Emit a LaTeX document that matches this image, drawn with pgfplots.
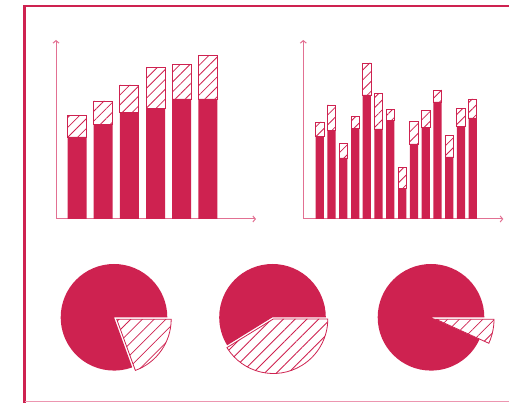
\documentclass[border=0pt]{standalone}
\usepackage{pgfplots}
\pgfplotsset{compat=1.18}
\usetikzlibrary{arrows.meta,patterns.meta}
\definecolor{crim}{RGB}{206,34,80}
\definecolor{axpink}{RGB}{226,112,146}
\definecolor{framepink}{RGB}{236,150,176}

\pgfplotsset{
  barchart/.style={
    x=1pt, y=1pt, xmin=0, xmax=200, ymin=0, ymax=179,
    anchor=south west, clip=false,
    axis lines=left, xtick=\empty, ytick=\empty,
    axis line style={draw=axpink, line width=1pt,
      -{Straight Barb[length=2.5pt,width=6pt]}},
    ybar stacked,
  },
  solid/.style={fill=crim, draw=none},
  hatch/.style={draw=crim, line width=0.8pt,
    pattern={Lines[angle=45,distance=7pt,line width=0.8pt]}, pattern color=crim},
  pie/.style={
    x=1pt, y=1pt, xmin=-60, xmax=60, ymin=-60, ymax=60,
    hide axis, anchor=center, clip=false,
  },
}
\tikzset{piehatch/.style={draw=crim, line width=0.8pt,
    pattern={Lines[angle=45,distance=8.3pt,line width=0.8pt]}, pattern color=crim}}

\begin{document}
\begin{tikzpicture}
\useasboundingbox (0pt,0pt) rectangle (509pt,403pt);

% frame
\draw[crim, line width=2.2pt] (24.5pt,0pt) -- (24.5pt,397pt) -- (509pt,397pt);
\draw[framepink, line width=1.5pt] (24.5pt,1.5pt) -- (509pt,1.5pt);

% left bars
\begin{axis}[barchart, at={(56pt,184pt)}, bar width=19pt]
\addplot[solid] coordinates {(21,82) (47.2,94.7) (73.3,106.7) (99.5,110.3) (125.6,120) (151.8,120)};
\addplot[hatch] coordinates {(21,21.7) (47.2,23.3) (73.3,27.3) (99.5,41.4) (125.6,34.3) (151.8,43.7)};
\end{axis}

% right bars
\begin{axis}[barchart, at={(303.3pt,184pt)}, bar width=8.3pt]
\addplot[solid] coordinates {(16.5,82.3) (28.2,88.7) (40.0,61) (51.9,90.7) (63.5,124) (75.2,90) (87.0,98.7)
  (98.9,30.3) (110.7,75) (122.5,91.3) (134.2,117) (145.9,62) (157.7,92.7) (169.4,101)};
\addplot[hatch] coordinates {(16.5,14.7) (28.2,25.3) (40.0,14.7) (51.9,12) (63.5,32) (75.2,35.3) (87.0,11)
  (98.9,21.4) (110.7,22.3) (122.5,17.4) (134.2,12) (145.9,21.7) (157.7,17.6) (169.4,19)};
\end{axis}

% pies
\begin{axis}[pie, at={(114pt,85.7pt)}]
\fill[crim] (axis cs:0,0) -- ++(0:53.3pt) arc[start angle=0,end angle=290,radius=53.3pt] -- cycle;
\draw[piehatch] (axis cs:2.7,-1.9) -- ++(-70:54.5pt) arc[start angle=-70,end angle=0,radius=54.5pt] -- cycle;
\end{axis}

\begin{axis}[pie, at={(272.5pt,85.7pt)}]
\fill[crim] (axis cs:0,0) -- ++(0:53.3pt) arc[start angle=0,end angle=211.7,radius=53.3pt] -- cycle;
\draw[piehatch] (axis cs:0.8,-1.7) -- ++(211.7:54.5pt) arc[start angle=211.7,end angle=360,radius=54.5pt] -- cycle;
\end{axis}

\begin{axis}[pie, at={(431pt,85.7pt)}]
\fill[crim] (axis cs:0,0) -- ++(0:53.3pt) arc[start angle=0,end angle=335.6,radius=53.3pt] -- cycle;
\draw[piehatch] (axis cs:5,-2) -- ++(-24.4:58pt) arc[start angle=-24.4,end angle=0,radius=58pt] -- cycle;
\end{axis}
\end{tikzpicture}
\end{document}
